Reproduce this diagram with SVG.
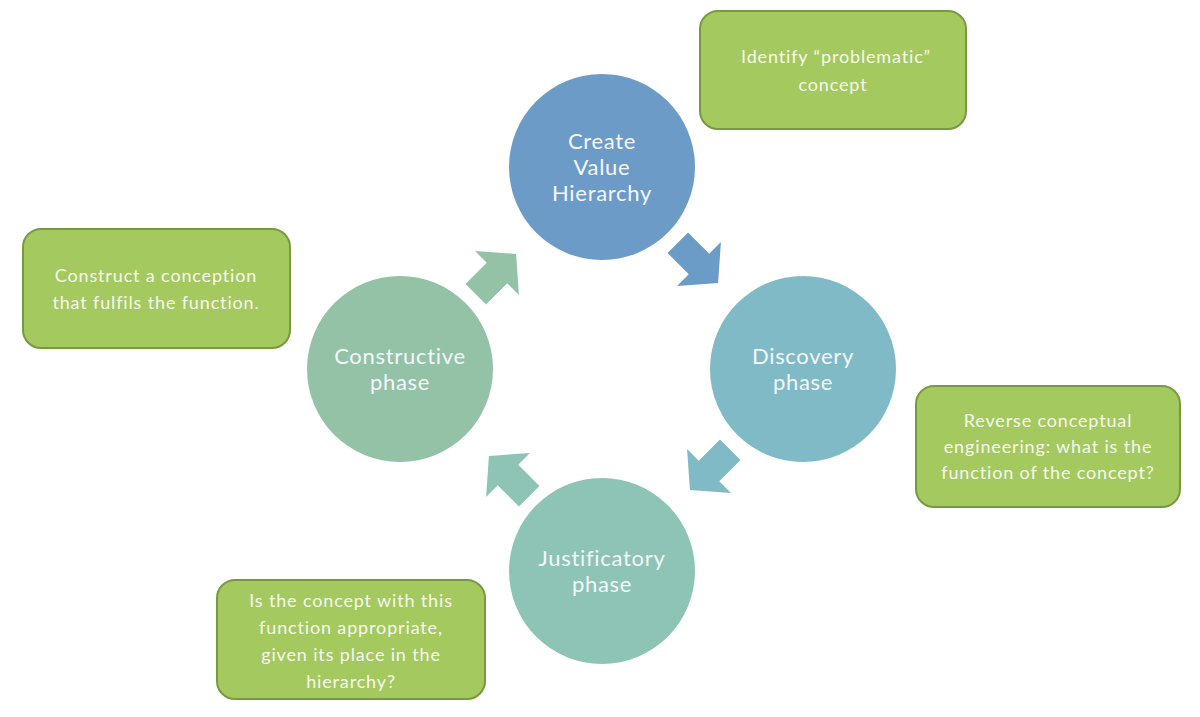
<svg xmlns="http://www.w3.org/2000/svg" width="1200" height="717" viewBox="0 0 1200 717">
<style>
.ct{font-family:"Lato","Open Sans","Liberation Sans",sans-serif;font-size:22px;fill:#F4F7FA;text-anchor:middle;letter-spacing:0.7px}
.bt{font-family:"Lato","Open Sans","Liberation Sans",sans-serif;font-size:18px;fill:#F6F9F0;text-anchor:middle;letter-spacing:0.85px}
.box{fill:#A4C95E;stroke:#789A3E;stroke-width:2}
</style>
<defs>
<path id="arr" d="M-30,-14.5 L0,-14.5 L0,-31 L27,0 L0,31 L0,14.5 L-30,14.5 Z"/>
</defs>
<rect width="1200" height="717" fill="#FFFFFF"/>
<g id="connectors">
<use href="#arr" transform="translate(699,264) rotate(45)" fill="#6B9BC7"/>
<use href="#arr" transform="translate(709,471) rotate(135)" fill="#80BAC6"/>
<use href="#arr" transform="translate(508,475) rotate(-135)" fill="#8DC4B6"/>
<use href="#arr" transform="translate(497,273) rotate(-45)" fill="#94C2A7"/>
</g>
<g id="node-create">
<circle cx="602" cy="167" r="93" fill="#6D9BC8"/>
<text class="ct" x="602" y="149">Create</text>
<text class="ct" x="602" y="175">Value</text>
<text class="ct" x="602" y="201">Hierarchy</text>
</g>
<g id="node-discovery">
<circle cx="803" cy="369" r="93" fill="#80BAC6"/>
<text class="ct" x="803" y="364">Discovery</text>
<text class="ct" x="803" y="390">phase</text>
</g>
<g id="node-justificatory">
<circle cx="602" cy="571" r="93" fill="#8DC4B6"/>
<text class="ct" x="602" y="566">Justificatory</text>
<text class="ct" x="602" y="592">phase</text>
</g>
<g id="node-constructive">
<circle cx="400" cy="369" r="93" fill="#94C2A7"/>
<text class="ct" x="400" y="364">Constructive</text>
<text class="ct" x="400" y="390">phase</text>
</g>
<g id="box-identify">
<rect class="box" x="700" y="11" width="266" height="118" rx="18"/>
<text class="bt" x="836" y="63">Identify “problematic”</text>
<text class="bt" x="833" y="91">concept</text>
</g>
<g id="box-reverse">
<rect class="box" x="916" y="386" width="264" height="121" rx="18"/>
<text class="bt" x="1048" y="427">Reverse conceptual</text>
<text class="bt" x="1048" y="453">engineering: what is the</text>
<text class="bt" x="1048" y="479">function of the concept?</text>
</g>
<g id="box-appropriate">
<rect class="box" x="217" y="580" width="268" height="119" rx="18"/>
<text class="bt" x="351" y="607">Is the concept with this</text>
<text class="bt" x="351" y="634">function appropriate,</text>
<text class="bt" x="351" y="661">given its place in the</text>
<text class="bt" x="351" y="688">hierarchy?</text>
</g>
<g id="box-construct">
<rect class="box" x="23" y="229" width="267" height="119" rx="18"/>
<text class="bt" x="156" y="282">Construct a conception</text>
<text class="bt" x="156" y="309">that fulfils the function.</text>
</g>
</svg>
